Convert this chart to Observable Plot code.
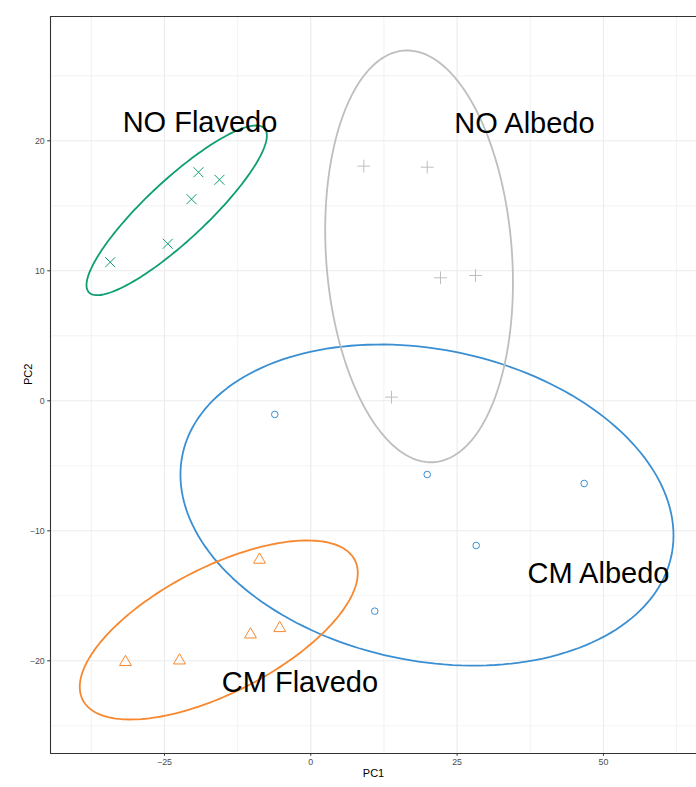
<!DOCTYPE html>
<html>
<head>
<meta charset="utf-8">
<script src="https://cdn.jsdelivr.net/npm/d3@7"></script>
<script src="https://cdn.jsdelivr.net/npm/@observablehq/plot@0.6"></script>
<style>
  html, body { margin: 0; padding: 0; background: #fff; }
  #chart { width: 696px; height: 787px; }
</style>
</head>
<body>
<div id="chart"></div>
<script>
// ---- data ----
const groups = ["CM Albedo", "CM Flavedo", "NO Albedo", "NO Flavedo"];
const groupSymbols = ["circle", "triangle", "plus", "times"];

const cmAlbedoPC1 = [-6.15, 19.89, 46.71, 28.26, 10.93];
const cmAlbedoPC2 = [-1.05, -5.67, -6.36, -11.13, -16.18];
const cmFlavedoPC1 = [-31.66, -22.43, -10.3, -5.3, -8.76];
const cmFlavedoPC2 = [-20.1, -19.98, -17.98, -17.49, -12.23];
const noAlbedoPC1 = [9.06, 19.89, 22.16, 28.14, 13.79];
const noAlbedoPC2 = [18.05, 17.97, 9.46, 9.64, 0.28];
const noFlavedoPC1 = [-34.27, -24.43, -20.38, -19.19, -15.6];
const noFlavedoPC2 = [10.66, 12.08, 15.51, 17.58, 17.0];

// confidence ellipses (center, half extents along PC1 / PC2, correlation), per group
const ellipseCenterPC1 = [19.85, -15.72, 18.5, -22.91];
const ellipseCenterPC2 = [-8.02, -17.63, 11.11, 14.65];
const ellipseHalfPC1 = [42.12, 23.75, 16.04, 15.41];
const ellipseHalfPC2 = [12.35, 6.885, 15.84, 6.527];
const ellipseCorr = [-0.189, 0.636, -0.127, 0.881];

// group labels
const labelText = ["CM Albedo", "CM Flavedo", "NO Albedo", "NO Flavedo"];
const labelPC1 = [49.15, -1.85, 36.51, -18.93];
const labelPC2 = [-13.3, -21.7, 21.3, 21.4];

// axis ticks
const xTicks = [-25, 0, 25, 50];
const xMinor = [-37.5, -12.5, 12.5, 37.5, 62.5];
const yTicks = [-20, -10, 0, 10, 20];
const yMinor = [-25, -15, -5, 5, 15, 25];

// ---- build tables ----
const pcs = [
  [cmAlbedoPC1, cmAlbedoPC2],
  [cmFlavedoPC1, cmFlavedoPC2],
  [noAlbedoPC1, noAlbedoPC2],
  [noFlavedoPC1, noFlavedoPC2]
];
const points = groups.map((g, i) =>
  pcs[i][0].map((x, j) => ({group: g, PC1: x, PC2: pcs[i][1][j]}))
);

const ellipses = groups.flatMap((g, i) => {
  const cx = ellipseCenterPC1[i], cy = ellipseCenterPC2[i];
  const wx = ellipseHalfPC1[i], hy = ellipseHalfPC2[i], r = ellipseCorr[i];
  const s = Math.sqrt(1 - r * r);
  return d3.range(0, 360, 2).map(a => {
    const t = a * Math.PI / 180;
    return {group: g, PC1: cx + wx * Math.cos(t), PC2: cy + hy * (r * Math.cos(t) + s * Math.sin(t))};
  });
});

const labels = labelText.map((t, i) => ({text: t, PC1: labelPC1[i], PC2: labelPC2[i]}));

const xDomain = [-44.47, 65.9];
const yDomain = [-27.13, 29.56];
const colors = ["#3A8FD3", "#F7882F", "#BEBEBE", "#0E9E74"];
const symbolSize = [3.3, 4.4, 4.2, 4.6];
const font = "'Liberation Sans', Arial, Helvetica, sans-serif";

const chart = Plot.plot({
  width: 696,
  height: 787,
  marginLeft: 50,
  marginRight: 0,
  marginTop: 16,
  marginBottom: 34,
  style: {fontFamily: font, background: "#fff", color: "#4d4d4d"},
  x: {domain: xDomain, axis: null},
  y: {domain: yDomain, axis: null},
  color: {domain: groups, range: colors},
  marks: [
    Plot.gridX(xMinor, {stroke: "#ebebeb", strokeOpacity: 1, strokeWidth: 0.6}),
    Plot.gridY(yMinor, {stroke: "#ebebeb", strokeOpacity: 1, strokeWidth: 0.6}),
    Plot.gridX(xTicks, {stroke: "#ebebeb", strokeOpacity: 1, strokeWidth: 1.1}),
    Plot.gridY(yTicks, {stroke: "#ebebeb", strokeOpacity: 1, strokeWidth: 1.1}),
    Plot.line(ellipses, {x: "PC1", y: "PC2", z: "group", stroke: "group", strokeWidth: 1.8, curve: "linear-closed"}),
    ...groups.map((g, i) =>
      Plot.dot(points[i], {x: "PC1", y: "PC2", stroke: "group", symbol: () => groupSymbols[i], r: symbolSize[i], strokeWidth: 1})
    ),
    Plot.text(labels, {x: "PC1", y: "PC2", text: "text", fontSize: 29, fill: "#000", fontFamily: font}),
    Plot.ruleX([xDomain[0]], {stroke: "#333", strokeWidth: 1.1}),
    Plot.ruleY([yDomain[0]], {stroke: "#333", strokeWidth: 1.1}),
    Plot.ruleY([yDomain[1]], {stroke: "#333", strokeWidth: 1.1}),
    Plot.axisX({ticks: xTicks, tickSize: 2.75, tickPadding: 2, fontSize: 8.8, label: null, stroke: "#333", fill: "#4d4d4d"}),
    Plot.axisY({ticks: yTicks, tickSize: 2.75, tickPadding: 3, fontSize: 8.8, label: null, stroke: "#333", fill: "#4d4d4d"}),
    Plot.text(["PC1"], {frameAnchor: "bottom", text: d => d, dy: 23, fontSize: 11, fill: "#000"}),
    Plot.text(["PC2"], {frameAnchor: "left", text: d => d, dx: -22, rotate: -90, fontSize: 11, fill: "#000"})
  ]
});
document.getElementById("chart").appendChild(chart);
</script>
</body>
</html>
